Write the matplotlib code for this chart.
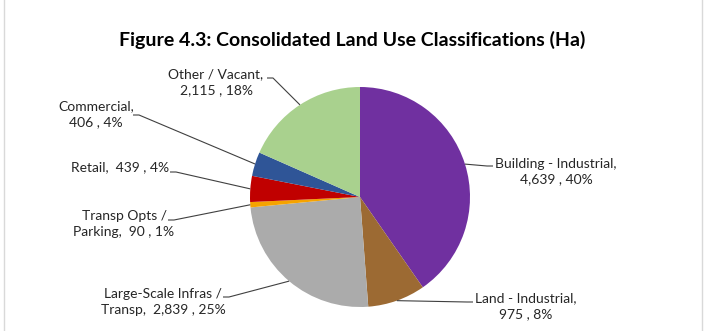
import numpy as np
import matplotlib
matplotlib.use('Agg')
import matplotlib.pyplot as plt

plt.rcParams['font.family'] = ['Lato', 'DejaVu Sans']

# data
categories = ['Building - Industrial', 'Land - Industrial', 'Large-Scale Infras / Transp',
              'Transp Opts / Parking', 'Retail', 'Commercial', 'Other / Vacant']
values = [4639, 975, 2839, 90, 439, 406, 2115]
# how each label is broken over lines (as Excel wrapped them)
label_heads = ['Building - Industrial,\n', 'Land - Industrial,\n', 'Large-Scale Infras /\nTransp,  ',
               'Transp Opts /\nParking,  ', 'Retail,  ', 'Commercial,\n', 'Other / Vacant,\n']
colors = ['#7030A0', '#9C6A33', '#ABABAB', '#F5A300', '#C00000', '#2F5597', '#A9D18E']

W, H = 705, 331
# label layout in pixels: text centre, leader end near the text
text_pos = [(556, 171.5), (526, 306), (163, 301.5), (124, 224), (120, 167), (96, 114), (216, 82.5)]
leader_end = [(493, 166), (473, 302), (223, 297), (168, 220), (170, 172), (133, 115), (267, 78)]

cx, cy, r = 360, 197, 110

fig = plt.figure(figsize=(W / 100, H / 100), dpi=100)
ax = fig.add_axes([0, 0, 1, 1])

wedges, _ = ax.pie(values, colors=colors, startangle=90, counterclock=False,
                   center=(cx, H - cy), radius=r, frame=True,
                   wedgeprops=dict(linewidth=0))
ax.set_xlim(0, W)
ax.set_ylim(0, H)
ax.axis('off')

total = sum(values)
for w, head, v, (tx, ty), (ex, ey) in zip(wedges, label_heads, values, text_pos, leader_end):
    pct = int(round(v / total * 100))
    ax.text(tx, H - ty, head + f'{v:,} , {pct}%', ha='center', va='center',
            fontsize=10, color='#262626', linespacing=1.4)
    ang = np.deg2rad((w.theta1 + w.theta2) / 2)
    px, py = cx + r * np.cos(ang), (H - cy) + r * np.sin(ang)
    stub = 6 if ex > px else -6
    ax.plot([px, ex - stub, ex], [py, H - ey, H - ey], color='#404040', lw=0.8,
            solid_capstyle='butt')

ax.text(352, H - 40, 'Figure 4.3: Consolidated Land Use Classifications (Ha)',
        ha='center', va='center', fontsize=14, fontweight='bold', color='black')

# chart border
ax.plot([4, 4], [0, H], color='#D9D9D9', lw=1)
ax.plot([702, 702], [0, H], color='#D9D9D9', lw=1)

fig.savefig('out.png', dpi=100)
